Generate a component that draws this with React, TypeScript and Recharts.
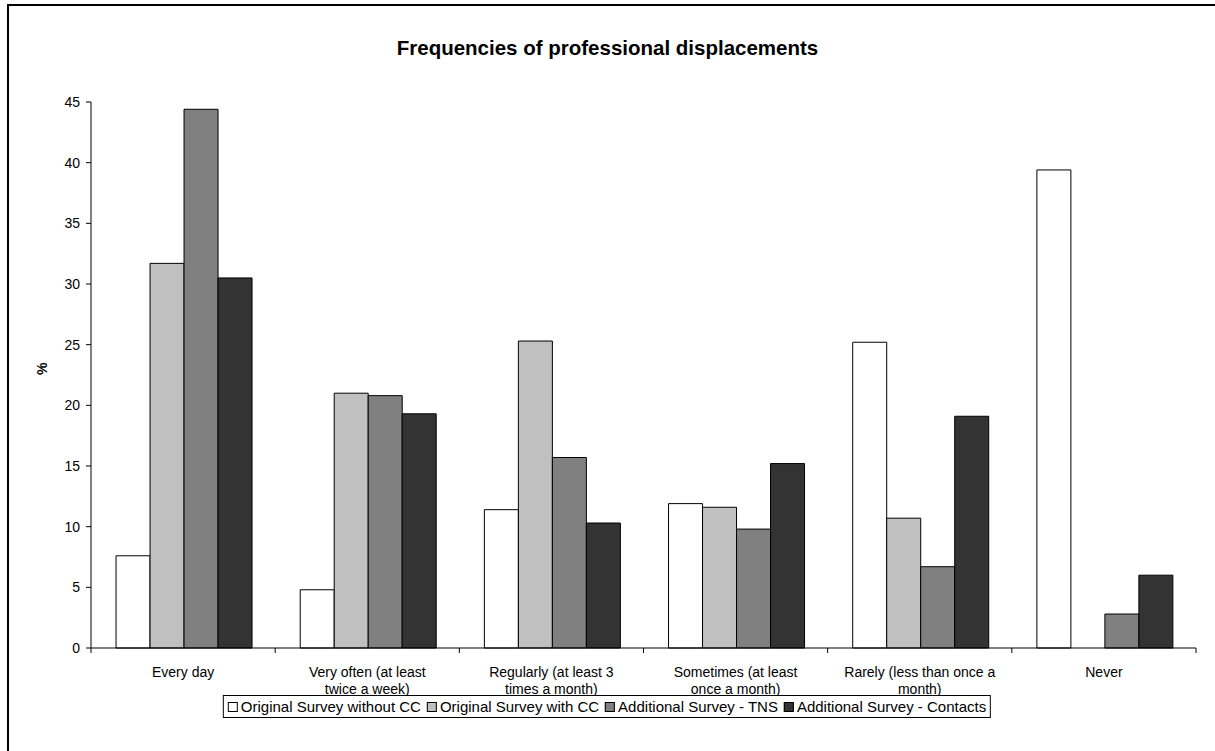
import { Bar, BarChart, XAxis, YAxis } from "recharts";

const categories = [
  "Every day",
  "Very often (at least\ntwice a week)",
  "Regularly (at least 3\ntimes a month)",
  "Sometimes (at least\nonce a month)",
  "Rarely (less than once a\nmonth)",
  "Never",
];

const withoutCC = [7.6, 4.8, 11.4, 11.9, 25.2, 39.4];
const withCC = [31.7, 21.0, 25.3, 11.6, 10.7, null];
const tns = [44.4, 20.8, 15.7, 9.8, 6.7, 2.8];
const contacts = [30.5, 19.3, 10.3, 15.2, 19.1, 6.0];

const yTicks = [0, 5, 10, 15, 20, 25, 30, 35, 40, 45];

const series = [
  { key: "withoutCC", name: "Original Survey without CC", color: "#ffffff" },
  { key: "withCC", name: "Original Survey with CC", color: "#c0c0c0" },
  { key: "tns", name: "Additional Survey - TNS", color: "#808080" },
  { key: "contacts", name: "Additional Survey - Contacts", color: "#333333" },
];

const data = categories.map((c, i) => ({
  category: c,
  withoutCC: withoutCC[i],
  withCC: withCC[i],
  tns: tns[i],
  contacts: contacts[i],
}));

const FONT = "'Liberation Sans', Arial, sans-serif";

// two-line category labels, with tick marks on the band edges
function CategoryTick(props: any) {
  const { x, y, payload, index } = props;
  const half = payload.offset ?? 0;
  const lines = String(payload.value).split("\n");
  return (
    <g>
      <line x1={x - half} x2={x - half} y1={y} y2={y + 5} stroke="#000" />
      {index === categories.length - 1 && (
        <line x1={x + half} x2={x + half} y1={y} y2={y + 5} stroke="#000" />
      )}
      <text x={x} y={y + 29} textAnchor="middle" fontSize={14} fontFamily={FONT} fill="#000">
        {lines.map((l, i) => (
          <tspan key={i} x={x} dy={i === 0 ? 0 : 17}>{l}</tspan>
        ))}
      </text>
    </g>
  );
}

export default function App() {
  return (
    <div style={{ position: "absolute", left: 0, top: 0, width: 1215, height: 751, overflow: "hidden", background: "#fff", fontFamily: FONT }}>
      <div style={{ position: "absolute", left: 7, top: 4, width: 1300, height: 900, border: "2px solid #000" }} />
      <div style={{ position: "absolute", left: 0, top: 36, width: 1215, textAlign: "center", fontSize: 20.5, fontWeight: 700, lineHeight: "24px" }}>
        Frequencies of professional displacements
      </div>
      <div style={{ position: "absolute", left: 0, top: 0 }}>
        <BarChart width={1215} height={751} data={data} margin={{ top: 102, right: 19, bottom: 0, left: 0 }} barCategoryGap="13.6%" barGap={0}>
          <XAxis dataKey="category" height={103} interval={0} tickSize={0} tickMargin={0} tickLine={false} axisLine={{ stroke: "#000" }} tick={<CategoryTick />} />
          <XAxis xAxisId="top" orientation="top" dataKey="category" height={0} tick={false} tickLine={false} axisLine={{ stroke: "#808080" }} />
          <YAxis
            width={91}
            domain={[0, 45]}
            ticks={yTicks}
            interval={0}
            tickSize={5}
            tickMargin={6}
            axisLine={{ stroke: "#000" }}
            tickLine={{ stroke: "#000" }}
            tick={{ fill: "#000", fontSize: 14, fontFamily: FONT }}
            label={{ value: "%", angle: -90, position: "insideLeft", offset: 42, fill: "#000", fontSize: 14, fontWeight: 700, fontFamily: FONT }}
          />
          <YAxis yAxisId="right" orientation="right" width={0} domain={[0, 45]} tick={false} tickLine={false} axisLine={{ stroke: "#808080" }} />
          {series.map((s) => (
            <Bar key={s.key} dataKey={s.key} name={s.name} fill={s.color} stroke="#000" strokeWidth={1} isAnimationActive={false} />
          ))}
        </BarChart>
      </div>
      <div style={{ position: "absolute", left: 607, top: 695, transform: "translateX(-50%)", border: "1px solid #000", padding: "2px 4px", display: "flex", whiteSpace: "nowrap", fontSize: 15, lineHeight: "17px", background: "#fff" }}>
        {series.map((s, i) => (
          <span key={s.key} style={{ display: "inline-flex", alignItems: "center", marginLeft: i === 0 ? 0 : 6 }}>
            <span style={{ display: "inline-block", width: 8, height: 8, border: "1px solid #000", background: s.color, marginRight: 3 }} />
            {s.name}
          </span>
        ))}
      </div>
    </div>
  );
}
